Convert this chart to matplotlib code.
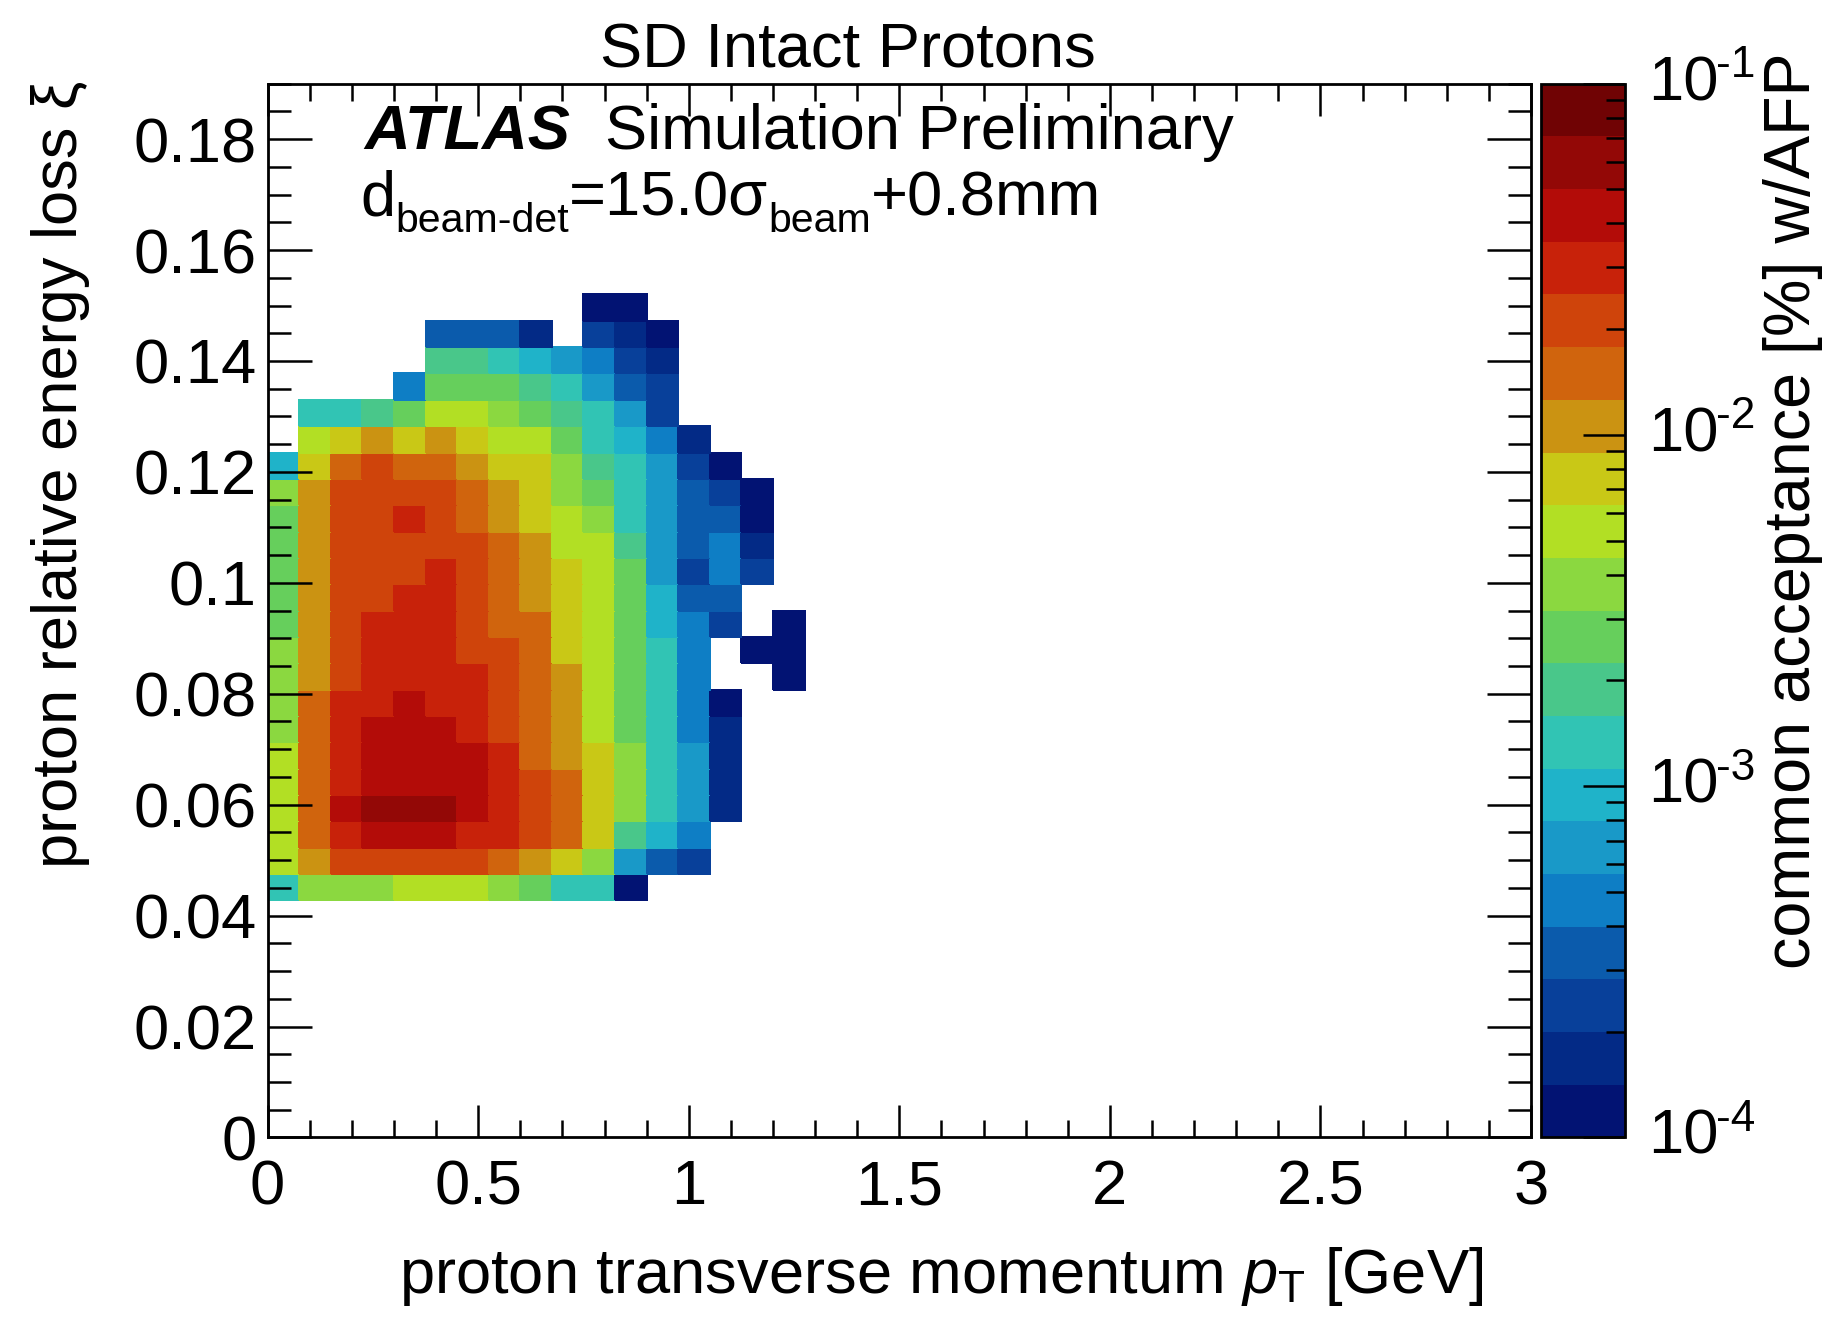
"""SD intact protons: AFP common acceptance in (pT, xi) bins, ROOT-style 2D map."""
import matplotlib
matplotlib.use("Agg")
import matplotlib.pyplot as plt
import numpy as np
from matplotlib.colors import ListedColormap, LogNorm
from matplotlib.ticker import FuncFormatter, LogLocator, MultipleLocator, NullFormatter
from matplotlib.transforms import IdentityTransform, blended_transform_factory, offset_copy

plt.rcParams["font.family"] = ["Liberation Sans", "DejaVu Sans"]
plt.rcParams["mathtext.fontset"] = "custom"
plt.rcParams["mathtext.rm"] = "Liberation Sans"
plt.rcParams["mathtext.it"] = "Liberation Sans:italic"
plt.rcParams["mathtext.bf"] = "Liberation Sans:bold"

# histogram binning
pt_edges = np.linspace(0.0, 3.0, 41)     # GeV
xi_edges = np.linspace(0.0, 0.19, 41)
top_xi_bin = 31                          # first row below sits in this xi bin

# acceptance in units of 1e-4 %, rows from xi bin 31 (top) down to xi bin 9,
# columns are pT bins 0..16; 0 means empty bin
acceptance_rows = [
    [0, 0, 0, 0, 0, 0, 0, 0, 0, 0, 1.2, 1.2, 0, 0, 0, 0, 0],
    [0, 0, 0, 0, 0, 3.3, 3.3, 3.3, 1.7, 0, 2.4, 1.7, 1.2, 0, 0, 0, 0],
    [0, 0, 0, 0, 0, 19, 19, 13, 9.5, 6.6, 4.8, 2.4, 1.7, 0, 0, 0, 0],
    [0, 0, 0, 0, 4.8, 26, 26, 26, 19, 13, 6.6, 3.3, 2.4, 0, 0, 0, 0],
    [0, 13, 13, 19, 26, 52, 52, 38, 26, 19, 13, 6.6, 2.4, 0, 0, 0, 0],
    [0, 52, 76, 105, 76, 105, 76, 52, 52, 26, 13, 9.5, 4.8, 1.7, 0, 0, 0],
    [9.5, 76, 150, 210, 150, 150, 105, 76, 76, 38, 19, 13, 6.6, 2.4, 1.2, 0, 0],
    [38, 105, 210, 210, 210, 210, 150, 105, 76, 38, 26, 13, 6.6, 3.3, 2.4, 1.2, 0],
    [26, 105, 210, 210, 300, 210, 150, 105, 76, 52, 38, 13, 6.6, 3.3, 3.3, 1.2, 0],
    [26, 105, 210, 210, 210, 210, 210, 150, 105, 52, 52, 19, 6.6, 3.3, 4.8, 1.7, 0],
    [26, 105, 210, 210, 210, 300, 210, 150, 105, 76, 52, 26, 6.6, 2.4, 4.8, 2.4, 0],
    [26, 105, 210, 210, 300, 300, 210, 150, 105, 76, 52, 26, 9.5, 3.3, 3.3, 0, 0],
    [26, 105, 210, 300, 300, 300, 210, 150, 150, 76, 52, 26, 9.5, 4.8, 2.4, 0, 1.2],
    [38, 105, 210, 300, 300, 300, 210, 210, 150, 76, 52, 26, 13, 4.8, 0, 1.2, 1.2],
    [38, 105, 210, 300, 300, 300, 300, 210, 150, 105, 52, 26, 13, 4.8, 0, 0, 1.2],
    [38, 150, 300, 300, 420, 300, 300, 210, 150, 105, 52, 26, 13, 4.8, 1.2, 0, 0],
    [38, 150, 300, 420, 420, 420, 300, 210, 150, 105, 52, 26, 13, 4.8, 1.7, 0, 0],
    [52, 150, 300, 420, 420, 420, 420, 300, 150, 105, 76, 38, 13, 6.6, 1.7, 0, 0],
    [52, 150, 300, 420, 420, 420, 420, 300, 210, 150, 76, 38, 13, 6.6, 1.7, 0, 0],
    [52, 150, 420, 600, 600, 600, 420, 300, 210, 150, 76, 38, 13, 6.6, 1.7, 0, 0],
    [52, 150, 300, 420, 420, 420, 300, 300, 210, 150, 76, 19, 9.5, 4.8, 0, 0, 0],
    [52, 105, 210, 210, 210, 210, 210, 150, 105, 76, 38, 6.6, 3.3, 2.4, 0, 0, 0],
    [13, 38, 38, 38, 52, 52, 52, 38, 26, 13, 13, 1.2, 0, 0, 0, 0, 0],
]
acceptance_unit = 1e-4  # %

# 20-step palette of the z axis, bottom to top
palette = [
    "#021373", "#032a86", "#08409a", "#0b5bac", "#0e7ec5",
    "#1999c8", "#1fb3c9", "#31c4b4", "#49c78a", "#66cf5c",
    "#8bd840", "#b2df24", "#c9c816", "#cb9312", "#d0640d",
    "#cf440b", "#c8220a", "#b30c08", "#930806", "#700304",
]
z_range = (1e-4, 1e-1)
z_ticks = [1e-4, 1e-3, 1e-2, 1e-1]
z_tick_exponents = ["-4", "-3", "-2", "-1"]

FS = 45.5
SUB = 0.65 * FS


def text_run(fig, x, y, pieces):
    """Lay out (text, size, dy_px) pieces one after another from figure point (x, y)."""
    renderer = fig.canvas.get_renderer()
    x_px, y_px = fig.transFigure.transform((x, y))
    for s, size, dy in pieces:
        t = fig.text(x_px, y_px + dy, s, fontsize=size, va="baseline",
                     transform=IdentityTransform())
        x_px = t.get_window_extent(renderer).x1


grid = np.zeros((len(xi_edges) - 1, len(pt_edges) - 1))
for k, row in enumerate(acceptance_rows):
    grid[top_xi_bin - k, :len(row)] = row
grid = np.ma.masked_equal(grid, 0) * acceptance_unit

fig = plt.figure(figsize=(18.24, 13.2), dpi=100)
ax = fig.add_axes([0.1467, 0.1383, 0.6927, 0.7983])
cax = fig.add_axes([0.8448, 0.1383, 0.0461, 0.7983])

mesh = ax.pcolormesh(
    pt_edges, xi_edges, grid,
    cmap=ListedColormap(palette), norm=LogNorm(*z_range),
    edgecolors="face", linewidth=0.3,
)
ax.set_xlim(pt_edges[0], pt_edges[-1])
ax.set_ylim(xi_edges[0], xi_edges[-1])

fmt = FuncFormatter(lambda v, _: f"{v:g}")
ax.xaxis.set_major_locator(MultipleLocator(0.5))
ax.xaxis.set_minor_locator(MultipleLocator(0.1))
ax.yaxis.set_major_locator(MultipleLocator(0.02))
ax.yaxis.set_minor_locator(MultipleLocator(0.005))
ax.xaxis.set_major_formatter(fmt)
ax.yaxis.set_major_formatter(fmt)
ax.tick_params(which="both", direction="in", top=True, right=True,
               width=1.8, labelsize=FS)
ax.tick_params(axis="x", which="major", length=23, pad=15)
ax.tick_params(axis="x", which="minor", length=12)
ax.tick_params(axis="y", which="major", length=32, pad=8)
ax.tick_params(axis="y", which="minor", length=16.5)
for s in ax.spines.values():
    s.set_linewidth(2)

cb = fig.colorbar(mesh, cax=cax)
cb.set_ticks(z_ticks)
cax.yaxis.set_major_formatter(NullFormatter())
cax.yaxis.set_minor_locator(LogLocator(base=10, subs=np.arange(2, 10)))
cax.yaxis.set_minor_formatter(NullFormatter())
cax.tick_params(which="both", direction="in", right=True, left=False, width=1.8)
cax.tick_params(which="major", length=30)
cax.tick_params(which="minor", length=14)
cb.outline.set_linewidth(2)

# ROOT-style "10^-n" labels with a compact, raised exponent
lab_trans = blended_transform_factory(cax.transAxes, cax.transData)
for t, ex in zip(z_ticks, z_tick_exponents):
    cax.text(1.0, t, "10", fontsize=FS, ha="left", va="center", clip_on=False,
             transform=offset_copy(lab_trans, fig, x=17, y=0, units="points"))
    cax.text(1.0, t, ex, fontsize=FS * 0.7, ha="left", va="center", clip_on=False,
             transform=offset_copy(lab_trans, fig, x=17 + 1.07 * FS, y=13,
                                   units="points"))

fig.text(0.4646, 0.9489, "SD Intact Protons", ha="center", va="baseline", fontsize=FS)
fig.text(0.1996, 0.8871, "ATLAS", fontsize=FS, fontweight="bold", style="italic",
         va="baseline")
fig.text(0.3317, 0.8871, "Simulation Preliminary", fontsize=FS, va="baseline")
text_run(fig, 0.1974, 0.8371, [
    ("d", FS, 0), ("beam-det", SUB, -17), ("=15.0σ", FS, 0),
    ("beam", SUB, -17), ("+0.8mm", FS, 0),
])

fig.text(0.813, 0.0205, r"proton transverse momentum $p_{\mathrm{T}}$ [GeV]",
         ha="right", va="baseline", fontsize=FS)
fig.text(0.0332, 0.9386, "proton relative energy loss ξ", rotation=90,
         ha="center", va="top", fontsize=FS)
fig.text(0.983, 0.9606, "common acceptance [%] w/AFP", rotation=90,
         ha="center", va="top", fontsize=FS + 1)

fig.savefig("out.png", dpi=100)
